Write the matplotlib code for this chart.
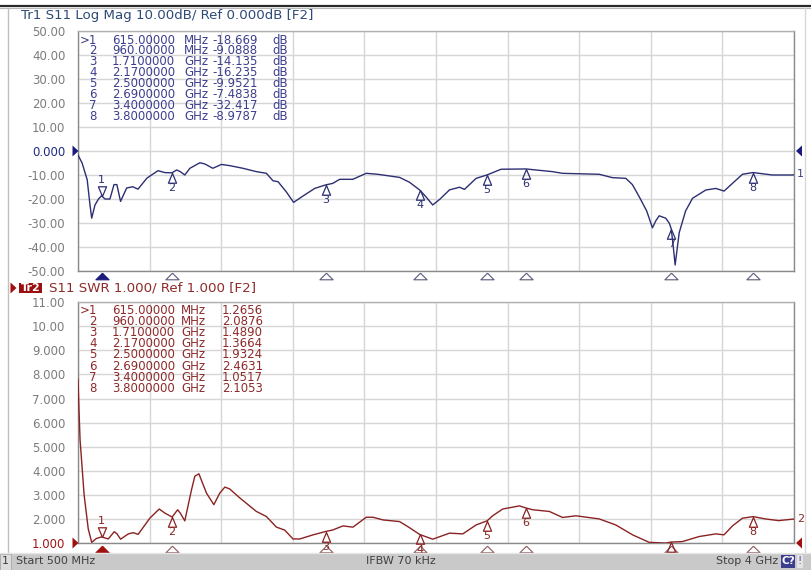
import numpy as np
import matplotlib
matplotlib.use("Agg")
import matplotlib.pyplot as plt
from matplotlib.transforms import blended_transform_factory
from matplotlib.patches import Rectangle, Polygon
from matplotlib.lines import Line2D
from matplotlib.font_manager import FontProperties

# ---------------- data ----------------
freq_db = [500, 520, 545, 558, 567, 583, 600, 615, 632, 656, 676, 690, 708, 738, 768, 793,
           837, 891, 925, 960, 982, 1000, 1022, 1047, 1096, 1120, 1159, 1201, 1242, 1306,
           1372, 1421, 1453, 1478, 1518, 1554, 1599, 1657, 1710, 1745, 1779, 1843, 1909,
           1965, 2072, 2120, 2170, 2200, 2234, 2270, 2316, 2365, 2389, 2446, 2500, 2568,
           2690, 2819, 2868, 3048, 3112, 3178, 3210, 3243, 3280, 3308, 3325, 3341, 3373,
           3390, 3400, 3410, 3419, 3430, 3439, 3470, 3504, 3569, 3618, 3658, 3699, 3748,
           3800, 3894, 3992, 4000]
s11_db = [-1.7, -5.0, -12.0, -22.0, -28.0, -22.5, -20.0, -18.669, -20.0, -20.0, -14.0, -14.0,
          -21.0, -15.4, -14.9, -15.9, -11.3, -8.2, -9.0, -9.0888, -7.9, -8.6, -10.0, -7.2,
          -4.9, -5.4, -7.2, -5.6, -6.1, -7.2, -8.6, -9.3, -12.4, -12.8, -17.0, -21.4, -18.8,
          -15.6, -14.135, -13.5, -11.8, -11.8, -9.3, -9.7, -11.0, -13.0, -16.235, -19.0,
          -22.5, -20.0, -16.2, -15.1, -16.0, -11.4, -9.9521, -7.6, -7.4838, -8.6, -9.3,
          -9.7, -11.1, -11.4, -14.0, -19.0, -25.0, -32.0, -29.0, -27.0, -28.0, -30.0,
          -32.417, -40.0, -47.5, -40.0, -34.0, -25.0, -19.7, -16.25, -15.6, -16.7, -13.5,
          -9.7, -8.9787, -10.0, -10.0, -9.9]

freq_swr = [500, 505, 510, 530, 550, 567, 590, 615, 648, 677, 690, 708, 746, 770, 794, 851,
            897, 925, 960, 987, 1000, 1022, 1055, 1071, 1091, 1128, 1164, 1193, 1218, 1242,
            1291, 1372, 1421, 1470, 1510, 1551, 1584, 1649, 1710, 1745, 1795, 1844, 1909,
            1942, 1990, 2072, 2120, 2170, 2234, 2316, 2381, 2446, 2500, 2527, 2576, 2658,
            2690, 2723, 2804, 2869, 2934, 3048, 3129, 3211, 3292, 3373, 3400, 3454, 3536,
            3618, 3658, 3699, 3748, 3800, 3860, 3925, 3992, 4000]
swr = [7.8, 6.5, 5.3, 3.0, 1.6, 1.04, 1.2, 1.2656, 1.18, 1.48, 1.4, 1.17, 1.39, 1.44, 1.37,
       2.04, 2.42, 2.25, 2.0876, 2.39, 2.25, 1.93, 3.22, 3.78, 3.88, 3.08, 2.6, 3.08, 3.33,
       3.25, 2.88, 2.32, 2.11, 1.67, 1.55, 1.18, 1.18, 1.35, 1.489, 1.55, 1.72, 1.67, 2.08,
       2.08, 1.97, 1.9, 1.65, 1.3664, 1.17, 1.42, 1.39, 1.76, 1.9324, 2.14, 2.42, 2.55,
       2.4631, 2.39, 2.32, 2.07, 2.14, 2.01, 1.76, 1.35, 1.04, 1.01, 1.0517, 1.07, 1.28,
       1.39, 1.35, 1.72, 2.04, 2.1053, 2.01, 1.94, 2.0, 2.0]

marker_ids = [">1", "2", "3", "4", "5", "6", "7", "8"]
marker_freqs = [615, 960, 1710, 2170, 2500, 2690, 3400, 3800]
marker_freq_labels = ["615.00000", "960.00000", "1.7100000", "2.1700000",
                      "2.5000000", "2.6900000", "3.4000000", "3.8000000"]
marker_units = ["MHz", "MHz", "GHz", "GHz", "GHz", "GHz", "GHz", "GHz"]
marker_db = [-18.669, -9.0888, -14.135, -16.235, -9.9521, -7.4838, -32.417, -8.9787]
marker_db_labels = ["-18.669", "-9.0888", "-14.135", "-16.235",
                    "-9.9521", "-7.4838", "-32.417", "-8.9787"]
marker_swr = [1.2656, 2.0876, 1.4890, 1.3664, 1.9324, 2.4631, 1.0517, 2.1053]
marker_swr_labels = ["1.2656", "2.0876", "1.4890", "1.3664",
                     "1.9324", "2.4631", "1.0517", "2.1053"]

top_yticks = [50, 40, 30, 20, 10, 0, -10, -20, -30, -40, -50]
top_ytick_labels = ["50.00", "40.00", "30.00", "20.00", "10.00", "0.000",
                    "-10.00", "-20.00", "-30.00", "-40.00", "-50.00"]
bot_yticks = [11, 10, 9, 8, 7, 6, 5, 4, 3, 2, 1]
bot_ytick_labels = ["11.00", "10.00", "9.000", "8.000", "7.000", "6.000",
                    "5.000", "4.000", "3.000", "2.000", "1.000"]
x_start, x_stop = 500, 4000

top_title = "Tr1 S11 Log Mag 10.00dB/ Ref 0.000dB [F2]"
bot_title = "S11 SWR 1.000/ Ref 1.000 [F2]"

# ---------------- styling ----------------
W, H = 812, 570
plt.rcParams["font.family"] = ["DejaVu Sans"]
fig = plt.figure(figsize=(W / 100, H / 100), dpi=100)
fig.patch.set_facecolor("white")

NAVY = "#2c2f72"
NAVY_TXT = "#3d3f8e"
RED = "#8b2222"
RED_TXT = "#8e2a2a"
GRID = "#d6d6d6"
TICK = "#7c7c7c"
TFS = 8.5  # table font size


def fx(x):
    return x / W


def fy(y):
    return 1 - y / H


ax1 = fig.add_axes([fx(78), fy(271), 716 / W, 240 / H])
ax2 = fig.add_axes([fx(78), fy(543.3), 716 / W, 241.3 / H])

for ax, ticks, labels, lo, hi in [(ax1, top_yticks, top_ytick_labels, -50, 50),
                                  (ax2, bot_yticks, bot_ytick_labels, 1, 11)]:
    ax.set_xlim(x_start, x_stop)
    ax.set_ylim(lo, hi)
    ax.set_xticks(np.linspace(x_start, x_stop, 11))
    ax.set_xticklabels([])
    ax.set_yticks(ticks)
    ax.set_yticklabels(labels)
    ax.tick_params(axis="both", length=0, pad=9, labelsize=8.5, labelcolor=TICK)
    ax.grid(True, color=GRID, lw=1.0)
    ax.set_axisbelow(True)
    for s in ax.spines.values():
        s.set_color("#8a8a8a")
        s.set_linewidth(1.0)
    ax.spines["top"].set_color("#b0b0b0")

for lab in ax1.get_yticklabels():
    if lab.get_text() == "0.000":
        lab.set_color("#1f2a80")
for lab in ax2.get_yticklabels():
    if lab.get_text() == "1.000":
        lab.set_color("#a01515")

# traces
ax1.plot(freq_db, s11_db, color=NAVY, lw=1.0, zorder=3)
ax2.plot(freq_swr, swr, color=RED, lw=1.0, zorder=3)

up_tri = [(0, 0), (-0.42, -1), (0.42, -1), (0, 0)]
down_tri = [(0, 0), (-0.42, 1), (0.42, 1), (0, 0)]


def draw_markers(ax, vals, color):
    for i, (f, v) in enumerate(zip(marker_freqs, vals)):
        num = marker_ids[i].replace(">", "")
        if i == 0:
            ax.plot([f], [v], marker=down_tri, ms=14, mfc="none", mec=color, mew=0.9,
                    ls="none", zorder=4, clip_on=False)
            ax.annotate(num, (f, v), xytext=(0, 8), textcoords="offset points",
                        ha="center", va="bottom", fontsize=8, color=color,
                        annotation_clip=False)
        else:
            ax.plot([f], [v], marker=up_tri, ms=14, mfc="none", mec=color, mew=0.9,
                    ls="none", zorder=4, clip_on=False)
            ax.annotate(num, (f, v), xytext=(0, -7.5), textcoords="offset points",
                        ha="center", va="top", fontsize=8, color=color,
                        annotation_clip=False)


draw_markers(ax1, marker_db, NAVY)
draw_markers(ax2, marker_swr, RED)

# marker indicators below each axis
strip_tri = [(0, 0.5), (-1, -0.5), (1, -0.5), (0, 0.5)]
for ax, edge, fill, hgt in [(ax1, "#5a5a7a", "#1a1a7a", 240), (ax2, "#8a5a5a", "#a01010", 241.3)]:
    tr = blended_transform_factory(ax.transData, ax.transAxes)
    for i, f in enumerate(marker_freqs):
        if i == 0:
            ax.plot([f], [-5.5 / hgt], marker=strip_tri, ms=9.5, mfc=fill, mec=fill,
                    mew=0.8, ls="none", transform=tr, clip_on=False)
        else:
            ax.plot([f], [-5.5 / hgt], marker=strip_tri, ms=9.5, mfc="white", mec=edge,
                    mew=0.8, ls="none", transform=tr, clip_on=False)

# reference level pointers
def ref_tri(x_tip, y, direction, color):
    w, h = 6, 5.5
    if direction == "right":
        pts = [(x_tip, y), (x_tip - w, y - h), (x_tip - w, y + h)]
    else:
        pts = [(x_tip, y), (x_tip + w, y - h), (x_tip + w, y + h)]
    fig.add_artist(Polygon([(fx(a), fy(b)) for a, b in pts], closed=True,
                           transform=fig.transFigure, fc=color, ec=color, lw=0))


ref_tri(78.5, 151, "right", "#1a1a80")
ref_tri(796, 151, "left", "#1a1a80")
ref_tri(78.5, 543, "right", "#a01010")
ref_tri(796, 543, "left", "#a01010")

# trace end labels
fig.text(fx(797), fy(174), "1", color=NAVY_TXT, fontsize=8, ha="left", va="center")
fig.text(fx(797), fy(519), "2", color=RED_TXT, fontsize=8, ha="left", va="center")

# marker tables: one multi-line text per column
renderer = fig.canvas.get_renderer()
_w, lp_h, lp_d = renderer.get_text_width_height_descent(
    "lp", FontProperties(family="DejaVu Sans", size=TFS), ismath=False)


def table(y_first, pitch, vals, unit_x, val_x, color, with_db):
    ls = (pitch - lp_d) / (lp_h - lp_d)
    # top of the first line box: first row centre minus half a line
    y_top = fy(y_first - (lp_h - lp_d) / 2 - 0.5)
    cols = [(97, "\n".join(marker_ids), "right"),
            (112, "\n".join(marker_freq_labels), "left"),
            (unit_x, "\n".join(marker_units), "left"),
            (val_x, "\n".join(vals), "left")]
    if with_db:
        cols.append((272, "\n".join(["dB"] * len(marker_ids)), "left"))
    for x, s, ha in cols:
        fig.text(fx(x), y_top, s, color=color, fontsize=TFS, ha=ha, va="top",
                 multialignment=ha, linespacing=ls)


table(39, 10.9, marker_db_labels, 184, 212, NAVY_TXT, True)
table(309, 11.2, marker_swr_labels, 181, 222, RED_TXT, False)

# headers
fig.text(fx(21), fy(15), top_title, color="#2e4a78", fontsize=9.6, ha="left", va="center")
ref_tri(16.5, 288, "right", "#a01010")
fig.add_artist(Rectangle((fx(19), fy(293)), 23 / W, 10 / H, transform=fig.transFigure,
                         fc="#9a1010", ec="none"))
fig.text(fx(30.5), fy(288), "Tr2", color="white", fontsize=8, fontweight="bold",
         ha="center", va="center")
fig.text(fx(49), fy(288), bot_title, color=RED_TXT, fontsize=9.6, ha="left", va="center")

# outer frame lines
fig.add_artist(Line2D([0, 1], [fy(6), fy(6)], transform=fig.transFigure, color="#2a2a2a", lw=1.6))
fig.add_artist(Line2D([0, 1], [fy(8), fy(8)], transform=fig.transFigure, color="#b8b8b8", lw=0.8))
fig.add_artist(Line2D([fx(7.5), fx(7.5)], [fy(8), fy(553)], transform=fig.transFigure,
                      color="#c0c0c0", lw=1.0))
fig.add_artist(Line2D([fx(805), fx(805)], [fy(8), fy(553)], transform=fig.transFigure,
                      color="#d8d8d8", lw=1.0))

# status bar
fig.add_artist(Rectangle((0, 0), 1, 17 / H, transform=fig.transFigure, fc="#c9c9c9", ec="none"))
fig.add_artist(Line2D([0, 1], [fy(553), fy(553)], transform=fig.transFigure, color="#e6e6e6", lw=1))
fig.add_artist(Rectangle((0, 0), fx(11), 16 / H, transform=fig.transFigure, fc="#dcdcdc",
                         ec="#a8a8a8", lw=0.6))
fig.text(fx(5), fy(561.5), "1", color="#404040", fontsize=8, ha="center", va="center")
fig.text(fx(16), fy(561.5), "Start 500 MHz", color="#404040", fontsize=8, ha="left", va="center")
fig.text(fx(401), fy(561.5), "IFBW 70 kHz", color="#404040", fontsize=8, ha="center", va="center")
fig.text(fx(778), fy(561.5), "Stop 4 GHz", color="#404040", fontsize=8, ha="right", va="center")
fig.add_artist(Rectangle((fx(781.5), fy(568)), 14 / W, 13 / H, transform=fig.transFigure,
                         fc="#3b3d8f", ec="none"))
fig.text(fx(788.5), fy(561.5), "C?", color="white", fontsize=7.5, fontweight="bold",
         ha="center", va="center")
fig.add_artist(Rectangle((fx(797), fy(568)), 6 / W, 13 / H, transform=fig.transFigure,
                         fc="#e4e4e4", ec="none"))
fig.text(fx(800), fy(561.5), "!", color="#5050a0", fontsize=7.5, ha="center", va="center")

fig.savefig("out.png", dpi=100)
